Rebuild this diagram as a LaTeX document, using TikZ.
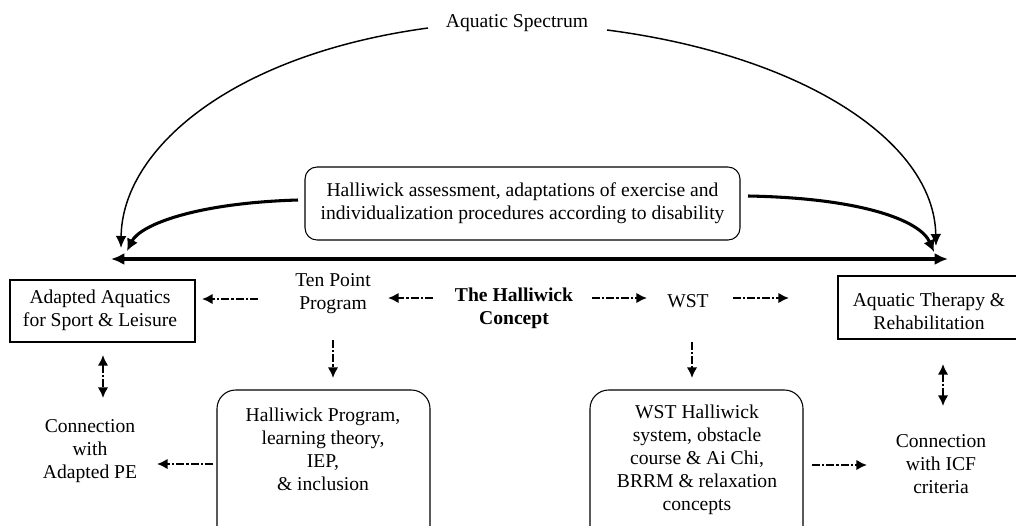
\documentclass[tikz,border=0pt]{standalone}
\usepackage{fontspec}
\setmainfont{Liberation Serif}
\usetikzlibrary{arrows.meta}
\begin{document}
\begin{tikzpicture}[x=0.75pt,y=-0.75pt,
  txt/.style={font=\fontsize{14.7}{17.2}\selectfont, align=center, inner sep=0pt},
  sqbox/.style={draw, line width=1.3pt, inner sep=0pt},
  rbox/.style={draw, line width=0.8pt, rounded corners=9pt, inner sep=0pt},
  ddarrow/.style={line width=1.9pt, dash pattern=on 6pt off 1.5pt on 1.8pt off 1.5pt, -{Latex[length=8pt,width=8pt]}},
  dddarrow/.style={line width=1.9pt, dash pattern=on 6pt off 1.5pt on 1.8pt off 1.5pt, {Latex[length=8pt,width=8pt]}-{Latex[length=8pt,width=8pt]}},
  arcarrow/.style={line width=1.1pt, -{Latex[length=9pt,width=8pt]}},
  thickarrow/.style={line width=2.3pt, -{Latex[length=9pt,width=9pt]}},
  hline/.style={line width=2.5pt, {Latex[length=10pt,width=9pt]}-{Latex[length=10pt,width=9pt]}}
]
\useasboundingbox (0,0) rectangle (1016,525);
\fill[white] (0,0) rectangle (1016,525);

% top label and arcs
\node[txt] (spec) at (517,23) {Aquatic Spectrum};
\coordinate (s1) at (428,28);
\coordinate (s2) at (607,30);
\coordinate (al) at (121,248);
\coordinate (ar) at (936,246);
\draw[arcarrow] (s1) .. controls (230,55) and (122,150) .. (al);
\draw[arcarrow] (s2) .. controls (800,55) and (934,140) .. (ar);

% assessment box
\node[rbox, minimum width=326.25pt, minimum height=54.75pt, txt] (assess) at (522.5,203.5)
  {Halliwick assessment, adaptations of exercise and\\individualization procedures according to disability};
\coordinate (b1) at (298,200);
\coordinate (b2) at (748,196);
\coordinate (bl) at (127,251);
\coordinate (br) at (934,252);
\draw[thickarrow] (b1) .. controls (195,203) and (140,225) .. (bl);
\draw[thickarrow] (b2) .. controls (860,198) and (920,220) .. (br);

% horizontal line
\coordinate (hl) at (111,259);
\coordinate (hr) at (948,259);
\draw[hline] (hl) -- (hr);

% middle row
\node[sqbox, minimum width=138.75pt, minimum height=46.5pt] (aabox) at (102.5,311) {};
\node[txt] (aa) at (100,310) {Adapted Aquatics\\for Sport \& Leisure};
\node[sqbox, minimum width=153pt, minimum height=47.25pt] (atbox) at (940,307.5) {};
\node[txt] (at) at (929,311) {Aquatic Therapy \&\\Rehabilitation};
\node[txt] (tp) at (333,293.5) {Ten Point\\Program};
\node[txt] (hc) at (514,308.5) {\textbf{The Halliwick}\\\textbf{Concept}};
\node[txt] (wst) at (688,301) {WST};

\coordinate (m1a) at (258,299);
\coordinate (m1b) at (202,299);
\coordinate (m2a) at (433,298);
\coordinate (m2b) at (388,298);
\coordinate (m3a) at (592,298);
\coordinate (m3b) at (647,298);
\coordinate (m4a) at (733,298);
\coordinate (m4b) at (789,298);
\draw[ddarrow] (m1a) -- (m1b);
\draw[ddarrow] (m2a) -- (m2b);
\draw[ddarrow] (m3a) -- (m3b);
\draw[ddarrow] (m4a) -- (m4b);

% down arrows
\coordinate (d1a) at (333,340);
\coordinate (d1b) at (333,378);
\coordinate (d2a) at (692,342);
\coordinate (d2b) at (692,378);
\draw[ddarrow] (d1a) -- (d1b);
\draw[ddarrow] (d2a) -- (d2b);

% vertical double arrows
\coordinate (v1a) at (103,355);
\coordinate (v1b) at (103,398);
\coordinate (v2a) at (943,364);
\coordinate (v2b) at (943,406);
\draw[dddarrow] (v1a) -- (v1b);
\draw[dddarrow] (v2a) -- (v2b);

% bottom row
\node[txt] (cpe) at (90,451.5) {Connection\\with\\Adapted PE};
\node[rbox, minimum width=159.75pt, minimum height=120pt, rounded corners=14pt] (progbox) at (323.5,470) {};
\node[txt] (prog) at (323,449) {Halliwick Program,\\learning theory,\\IEP,\\\& inclusion};
\node[rbox, minimum width=159.75pt, minimum height=120pt, rounded corners=14pt] (wstbox) at (696.5,470) {};
\node[txt] (wsttxt) at (697,460) {WST Halliwick\\system, obstacle\\course \& Ai Chi,\\BRRM \& relaxation\\concepts};
\node[txt] (icf) at (941,464.5) {Connection\\with ICF\\criteria};

\coordinate (p1a) at (213,464);
\coordinate (p1b) at (157,464);
\coordinate (p2a) at (812,465);
\coordinate (p2b) at (867,465);
\draw[ddarrow] (p1a) -- (p1b);
\draw[ddarrow] (p2a) -- (p2b);
\end{tikzpicture}
\end{document}
